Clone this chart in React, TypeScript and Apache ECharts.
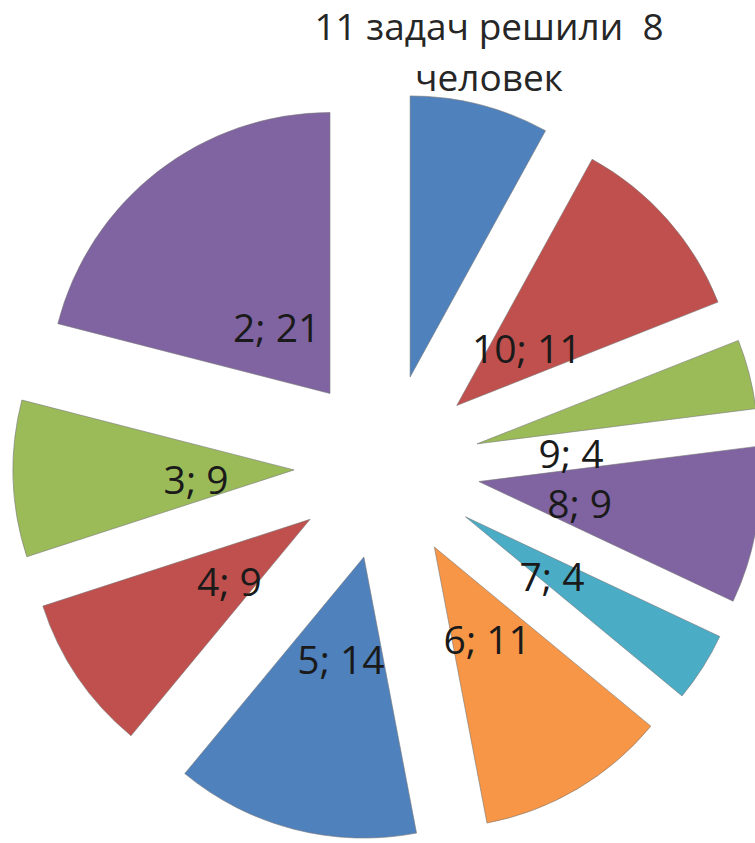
import React, { useEffect, useRef } from 'react';
import * as echarts from 'echarts';

const categories = ['11', '10', '9', '8', '7', '6', '5', '4', '3', '2'];
const values = [8, 11, 4, 9, 4, 11, 14, 9, 9, 21];
const colors = ['#4F81BD', '#C0504D', '#9BBB59', '#8064A2', '#4BACC6', '#F79646', '#4F81BD', '#C0504D', '#9BBB59', '#8064A2'];
const titleLines = ['11 задач решили  8', 'человек'];
// the first slice's label is shown as the chart title instead
const hiddenLabels = ['11'];

// label placement tweaks (style only)
const labelOffsets: Record<string, number[]> = {
  '2': [8, 12],
  '9': [-3, 33],
  '10': [-5, 8],
};

export default function App() {
  const ref = useRef<HTMLDivElement>(null);
  useEffect(() => {
    if (!ref.current) return;
    const chart = echarts.init(ref.current, undefined, { renderer: 'svg' });
    const center = [387, 467];
    const radius = 281;
    const offset = 93;
    const sliceData = categories.map((c, i) => ({
      name: c,
      value: values[i],
      selected: true,
      itemStyle: { color: colors[i] },
      select: { itemStyle: { color: colors[i] } },
    }));
    const labelData = categories.map((c, i) => ({
      name: c,
      value: values[i],
      selected: true,
      label: { show: hiddenLabels.indexOf(c) < 0 },
    }));
    chart.setOption({
      animation: false,
      graphic: [
        {
          type: 'text',
          x: 489,
          y: 0,
          style: {
            text: titleLines.join('\n'),
            font: '37px "Open Sans"',
            fill: '#262626',
            align: 'center',
            lineHeight: 51,
          },
        },
      ],
      series: [
        {
          type: 'pie',
          center,
          radius: [0, radius],
          startAngle: 90,
          clockwise: true,
          selectedMode: 'multiple',
          selectedOffset: offset,
          avoidLabelOverlap: false,
          silent: true,
          label: { show: false },
          labelLine: { show: false },
          itemStyle: { borderColor: 'rgba(120,120,120,0.6)', borderWidth: 1 },
          emphasis: { disabled: true },
          data: sliceData,
        },
        {
          type: 'pie',
          center,
          radius: [0, 194],
          startAngle: 90,
          clockwise: true,
          selectedMode: 'multiple',
          selectedOffset: offset,
          avoidLabelOverlap: false,
          silent: true,
          z: 5,
          itemStyle: { color: 'rgba(0,0,0,0)', borderWidth: 0 },
          select: { itemStyle: { color: 'rgba(0,0,0,0)', borderWidth: 0 } },
          label: {
            show: true,
            position: 'inside',
            formatter: '{b}; {c}',
            fontSize: 39,
            fontFamily: '"Open Sans"',
            color: '#1a1a1a',
          },
          labelLayout: (p: any) => {
            const o = labelOffsets[categories[p.dataIndex]] || [2, 5];
            return { dx: o[0], dy: o[1], hideOverlap: false };
          },
          labelLine: { show: false },
          emphasis: { disabled: true },
          data: labelData,
        },
      ],
    });
    return () => chart.dispose();
  }, []);
  return (
    <div
      ref={ref}
      style={{ position: 'fixed', left: 0, top: 0, width: 755, height: 843, background: '#fff' }}
    />
  );
}
